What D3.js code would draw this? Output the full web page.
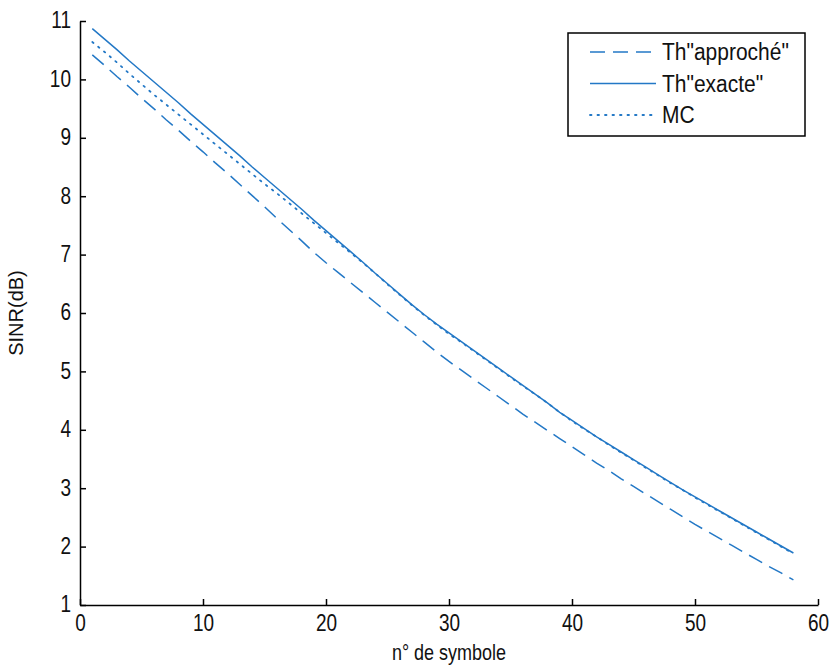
<!DOCTYPE html>
<html>
<head>
<meta charset="utf-8">
<script src="https://cdn.jsdelivr.net/npm/d3@7"></script>
<style>
  body { margin: 0; background: #fff; }
  text { font-family: "Liberation Sans", Arial, sans-serif; fill: #111; }
</style>
</head>
<body>
<div id="chart"></div>
<script>
const svgWidth = 834
const svgHeight = 667
let margin = { top: 21, right: 16, bottom: 62, left: 80 }
let width = svgWidth - margin.left - margin.right
let height = svgHeight - margin.top - margin.bottom

// symbol index
const symbols = d3.range(1, 59)
// Th"exacte"
const exacte = [10.87, 10.69, 10.51, 10.32, 10.14, 9.96, 9.78, 9.60, 9.41, 9.23,
  9.05, 8.87, 8.69, 8.50, 8.32, 8.14, 7.96, 7.78, 7.59, 7.41,
  7.23, 7.05, 6.87, 6.68, 6.50, 6.32, 6.14, 5.97, 5.81, 5.66,
  5.51, 5.36, 5.21, 5.06, 4.91, 4.76, 4.61, 4.46, 4.30, 4.16,
  4.02, 3.88, 3.75, 3.62, 3.49, 3.36, 3.23, 3.10, 2.97, 2.85,
  2.73, 2.61, 2.49, 2.37, 2.25, 2.13, 2.01, 1.89]
// Th"approché"
const approche = [10.42, 10.24, 10.05, 9.87, 9.68, 9.50, 9.31, 9.13, 8.94, 8.76,
  8.57, 8.39, 8.20, 8.01, 7.82, 7.62, 7.43, 7.24, 7.04, 6.86,
  6.69, 6.52, 6.35, 6.18, 6.01, 5.84, 5.67, 5.50, 5.33, 5.17,
  5.02, 4.87, 4.72, 4.57, 4.42, 4.27, 4.13, 3.99, 3.85, 3.71,
  3.57, 3.43, 3.30, 3.16, 3.03, 2.90, 2.77, 2.64, 2.51, 2.38,
  2.26, 2.14, 2.02, 1.90, 1.78, 1.66, 1.55, 1.43]
// MC
const mc = [10.64, 10.47, 10.29, 10.10, 9.92, 9.74, 9.57, 9.40, 9.23, 9.06,
  8.89, 8.72, 8.55, 8.38, 8.21, 8.05, 7.88, 7.71, 7.54, 7.37,
  7.20, 7.03, 6.86, 6.68, 6.49, 6.31, 6.13, 5.96, 5.80, 5.64,
  5.50, 5.35, 5.20, 5.05, 4.90, 4.75, 4.61, 4.46, 4.30, 4.15,
  4.01, 3.88, 3.74, 3.61, 3.48, 3.35, 3.22, 3.09, 2.97, 2.84,
  2.72, 2.60, 2.48, 2.36, 2.24, 2.12, 2.00, 1.88]

const xTicks = [0, 10, 20, 30, 40, 50, 60]
const yTicks = [1, 2, 3, 4, 5, 6, 7, 8, 9, 10, 11]
const seriesNames = ['Th"approché"', 'Th"exacte"', 'MC']
const seriesDash = ["15,8", null, "1.5,6"]

const lineColor = "#2378c6"
// the original figure is stretched vertically, text too
const stretch = 1.22

let svg = d3
  .select("#chart")
  .append("svg")
  .attr("width", svgWidth)
  .attr("height", svgHeight)
let chartGroup = svg
  .append("g")
  .attr("transform", `translate(${margin.left}, ${margin.top})`)

let xLinearScale = d3.scaleLinear().domain([0, 60]).range([0, width])
let yLinearScale = d3.scaleLinear().domain([1, 11]).range([height, 0])

// axes, matlab style ticks pointing inward
let bottomAxis = d3.axisBottom(xLinearScale)
  .tickValues(xTicks)
  .tickSizeInner(-6)
  .tickSizeOuter(0)
let leftAxis = d3.axisLeft(yLinearScale)
  .tickValues(yTicks)
  .tickSizeInner(-6)
  .tickSizeOuter(0)

let xAxis = chartGroup
  .append("g")
  .attr("transform", `translate(0, ${height})`)
  .call(bottomAxis)
let yAxis = chartGroup
  .append("g")
  .call(leftAxis)

svg.selectAll(".domain").attr("stroke", "#000").attr("stroke-width", 1.5)
svg.selectAll(".tick line").attr("stroke", "#000").attr("stroke-width", 1.5)
svg.selectAll(".tick text")
  .style("font-size", "19px")
  .style("font-family", '"Liberation Sans", Arial, sans-serif')
  .attr("fill", "#111")
  .attr("transform", `scale(1, ${stretch})`)
xAxis.selectAll(".tick text")
  .attr("y", 21)
  .attr("dy", 0)
yAxis.selectAll(".tick text")
  .attr("x", -9)
  .attr("dy", 0)
  .attr("y", 5.6)

// series
let seriesData = [approche, exacte, mc]
let line = d3.line()
  .x((d, i) => xLinearScale(symbols[i]))
  .y(d => yLinearScale(d))

seriesData.forEach((values, k) => {
  chartGroup
    .append("path")
    .datum(values)
    .attr("d", line)
    .attr("fill", "none")
    .attr("stroke", lineColor)
    .attr("stroke-width", k === 2 ? 1.8 : 1.5)
    .attr("stroke-linecap", k === 2 ? "round" : "butt")
    .attr("stroke-dasharray", seriesDash[k])
})

// axis labels
chartGroup
  .append("text")
  .attr("transform", `translate(${width / 2}, ${height + 55}) scale(1, ${stretch})`)
  .attr("text-anchor", "middle")
  .style("font-size", "18px")
  .text("n° de symbole")
chartGroup
  .append("text")
  .attr("transform", "rotate(-90)")
  .attr("x", -height / 2)
  .attr("y", -57)
  .attr("text-anchor", "middle")
  .style("font-size", "20px")
  .text("SINR(dB)")

// legend
let legend = svg
  .append("g")
  .attr("transform", "translate(568, 33)")
legend
  .append("rect")
  .attr("width", 237)
  .attr("height", 103)
  .attr("fill", "#fff")
  .attr("stroke", "#000")
  .attr("stroke-width", 1.5)
seriesNames.forEach((name, k) => {
  let yPos = 19 + k * 31.5
  legend
    .append("line")
    .attr("x1", 22)
    .attr("x2", 88)
    .attr("y1", yPos)
    .attr("y2", yPos)
    .attr("stroke", lineColor)
    .attr("stroke-width", k === 2 ? 1.8 : 1.5)
    .attr("stroke-linecap", k === 2 ? "round" : "butt")
    .attr("stroke-dasharray", seriesDash[k])
  legend
    .append("text")
    .attr("transform", `translate(94, ${yPos + 8}) scale(1, 1.15)`)
    .style("font-size", "21px")
    .text(name)
})
</script>
</body>
</html>
